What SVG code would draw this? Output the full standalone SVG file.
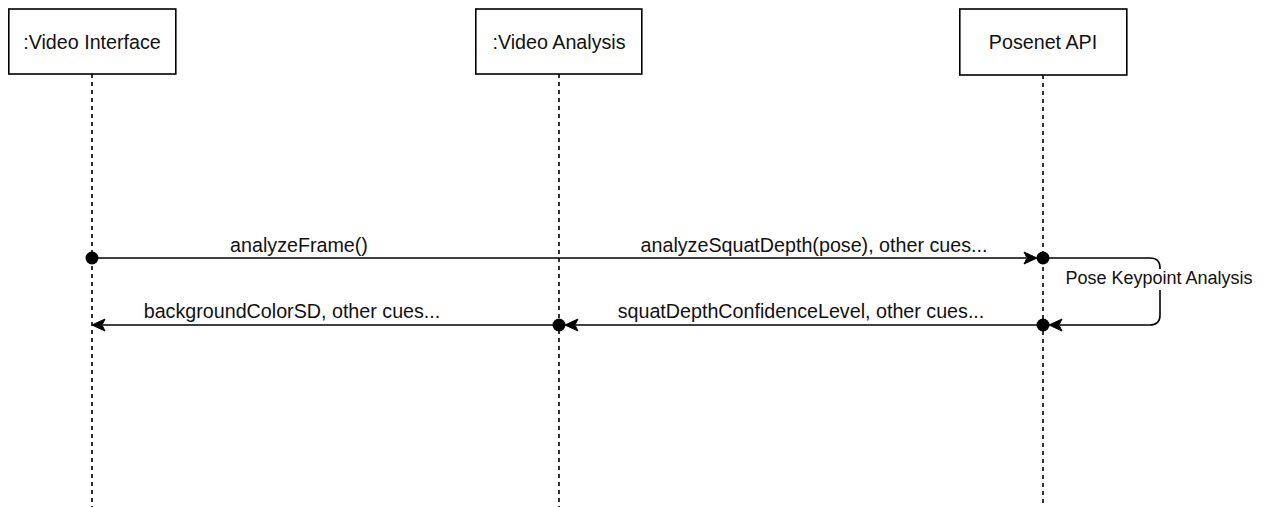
<svg xmlns="http://www.w3.org/2000/svg" width="1268" height="507" viewBox="0 0 1268 507">
<style>
.box{fill:#fff;stroke:#000;stroke-width:1.6}
.life{stroke:#000;stroke-width:1.6;stroke-dasharray:4 4;fill:none}
.msg{stroke:#000;stroke-width:1.6;fill:none}
.t{font-family:"Liberation Sans",Arial,sans-serif;font-size:19.7px;fill:#111;text-anchor:middle}
.s{font-size:18px}
.dot{fill:#000}
.ah{fill:#000;stroke:#000;stroke-width:1}
</style>
<defs>
<path id="arrR" class="ah" d="M0,0 L-13,-6 L-10,0 L-13,6 Z"/>
<path id="arrL" class="ah" d="M0,0 L13,-6 L10,0 L13,6 Z"/>
</defs>
<rect width="1268" height="507" fill="#fff"/>
<g id="lifelines">
<line class="life" x1="92" y1="74" x2="92" y2="507"/>
<line class="life" x1="559" y1="74" x2="559" y2="507"/>
<line class="life" x1="1043" y1="75" x2="1043" y2="507"/>
</g>
<g id="node-video-interface">
<rect class="box" x="8.8" y="9" width="167" height="65"/>
<text class="t" x="92" y="49">:Video Interface</text>
</g>
<g id="node-video-analysis">
<rect class="box" x="475.8" y="9" width="166" height="65"/>
<text class="t" x="559" y="49">:Video Analysis</text>
</g>
<g id="node-posenet">
<rect class="box" x="959.8" y="9" width="167" height="66"/>
<text class="t" x="1043" y="49">Posenet API</text>
</g>
<g id="connectors">
<line class="msg" x1="92" y1="258" x2="1026" y2="258"/>
<use href="#arrR" x="1037" y="258"/>
<circle class="dot" cx="92" cy="258" r="6.5"/>
<circle class="dot" cx="1043" cy="258" r="6.5"/>
<text class="t" x="299" y="252">analyzeFrame()</text>
<text class="t" x="814" y="252">analyzeSquatDepth(pose), other cues...</text>

<path class="msg" d="M1043,258 H1150 Q1160,258 1160,268 V315 Q1160,325 1150,325 H1060"/>
<use href="#arrL" x="1049" y="325"/>
<rect x="1062" y="269" width="195" height="21" fill="#fff"/>
<text class="t s" x="1159" y="284">Pose Keypoint Analysis</text>

<line class="msg" x1="1043" y1="325" x2="576" y2="325"/>
<use href="#arrL" x="565" y="325"/>
<circle class="dot" cx="1043" cy="325" r="6.5"/>
<circle class="dot" cx="559" cy="325" r="6.5"/>
<text class="t" x="801" y="318">squatDepthConfidenceLevel, other cues...</text>

<line class="msg" x1="559" y1="325" x2="103" y2="325"/>
<use href="#arrL" x="92" y="325"/>
<text class="t" x="292" y="318">backgroundColorSD, other cues...</text>
</g>
</svg>
